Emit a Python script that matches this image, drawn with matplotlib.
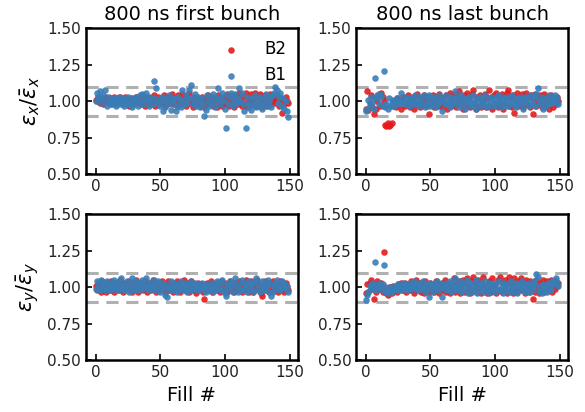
import numpy as np
import matplotlib
matplotlib.use('Agg')
import matplotlib.pyplot as plt

# fill index
fills = np.arange(150)

# horizontal emittance, first bunch
ex_first_b2 = [1.01, 1.00, 1.03, 0.99, 1.02, 1.00, 0.98, 1.01, 1.03, 1.00,
               0.99, 1.02, 0.98, 1.01, 1.03, 0.98, 1.00, 1.02, 0.99, 1.03,
               1.01, 0.98, 1.00, 1.03, 0.99, 1.01, 0.97, 1.02, 1.00, 0.98,
               1.01, 1.03, 0.99, 1.00, 1.02, 0.98, 1.04, 1.00, 0.97, 1.01,
               1.03, 0.99, 1.02, 0.98, 1.00, 1.04, 0.97, 1.01, 1.03, 0.98,
               1.00, 1.02, 0.99, 1.04, 0.97, 1.01, 1.03, 0.99, 1.00, 1.05,
               0.98, 1.02, 1.00, 0.97, 1.04, 1.01, 0.98, 1.05, 1.00, 1.02,
               0.97, 1.04, 1.06, 0.99, 1.01, 0.96, 1.03, 1.00, 0.98, 1.02,
               1.01, 0.97, 1.03, 1.00, 0.96, 1.02, 0.99, 1.04, 0.98, 1.01,
               1.03, 0.97, 1.00, 1.02, 0.96, 1.04, 0.99, 1.01, 0.97, 1.03,
               1.00, 0.98, 1.05, 0.97, 1.02, 0.99, 1.04, 0.96, 1.01, 1.03,
               0.98, 1.06, 1.00, 0.97, 1.03, 0.99, 1.06, 0.96, 1.02, 1.00,
               1.05, 0.98, 1.01, 1.06, 0.97, 1.03, 0.99, 1.05, 0.96, 1.02,
               1.00, 1.04, 0.97, 1.02, 0.99, 1.05, 0.98, 1.01, 1.03, 0.99,
               1.04, 1.00, 0.97, 1.02, 0.92, 1.01, 0.98, 1.03, 1.00, 0.99]
ex_first_b1 = [1.00, 1.06, 1.03, 1.07, 0.99, 1.02, 1.04, 1.08, 1.00, 0.97,
               1.03, 0.99, 1.01, 0.98, 1.02, 1.00, 0.97, 1.01, 1.03, 0.98,
               1.00, 1.02, 0.97, 1.01, 0.99, 1.03, 0.98, 1.00, 0.96, 1.02,
               0.99, 1.03, 1.01, 0.97, 1.04, 1.00, 1.05, 0.98, 1.02, 1.06,
               1.01, 0.97, 1.03, 1.00, 0.98, 1.14, 1.02, 1.09, 0.99, 1.01,
               0.97, 1.03, 0.93, 1.00, 0.96, 1.02, 0.98, 1.04, 0.94, 1.01,
               0.99, 1.02, 0.93, 0.97, 1.03, 1.00, 0.96, 1.08, 1.01, 0.98,
               1.04, 0.99, 1.08, 1.02, 1.11, 0.98, 1.01, 1.05, 0.97, 1.03,
               1.00, 0.96, 1.02, 0.98, 0.90, 0.94, 1.04, 1.00, 0.97, 1.02,
               0.99, 1.05, 0.96, 1.03, 1.01, 1.09, 0.98, 1.02, 1.06, 1.00,
               0.95, 0.82, 1.04, 0.98, 1.03, 1.06, 0.97, 1.01, 1.05, 0.99,
               1.02, 1.09, 1.00, 1.06, 0.98, 0.93, 0.82, 1.03, 0.99, 0.96,
               0.94, 1.02, 0.98, 1.04, 0.96, 1.01, 0.97, 1.03, 0.99, 0.95,
               1.02, 0.98, 1.05, 0.97, 1.00, 1.03, 0.96, 1.04, 1.06, 1.10,
               1.08, 0.99, 1.03, 1.06, 0.97, 1.02, 0.95, 1.00, 0.93, 0.89]

# horizontal emittance, last bunch
ex_last_b2 = [0.95, 1.07, 0.94, 0.99, 1.04, 0.96, 0.91, 1.02, 0.95, 1.00,
              1.05, 0.97, 1.06, 1.03, 1.00, 0.84, 0.83, 0.85, 0.83, 0.84,
              0.85, 0.97, 1.00, 0.96, 1.02, 0.98, 1.01, 0.95, 1.00, 1.03,
              0.97, 1.01, 0.99, 1.04, 0.96, 1.00, 1.02, 0.95, 1.03, 0.98,
              1.05, 0.99, 0.96, 1.02, 0.98, 1.04, 1.00, 0.97, 1.03, 0.91,
              1.01, 0.98, 1.04, 0.96, 1.00, 1.03, 0.97, 1.05, 0.99, 0.96,
              1.02, 0.98, 1.04, 0.95, 1.00, 1.06, 0.97, 1.03, 0.99, 1.05,
              0.96, 1.02, 1.07, 0.98, 1.01, 0.95, 1.04, 0.99, 1.06, 0.97,
              1.02, 0.96, 1.05, 1.08, 0.99, 0.95, 1.03, 0.97, 1.04, 0.96,
              1.01, 0.98, 1.05, 0.96, 1.02, 1.08, 0.97, 1.03, 0.95, 1.04,
              0.99, 1.06, 0.96, 1.02, 0.98, 1.05, 0.95, 1.03, 0.99, 1.06,
              1.08, 0.97, 1.02, 0.96, 1.04, 0.92, 1.00, 1.06, 0.97, 1.03,
              0.99, 1.05, 0.96, 1.02, 1.06, 0.98, 1.03, 0.96, 1.04, 0.91,
              1.00, 1.05, 0.97, 1.02, 0.98, 1.04, 0.96, 1.01, 1.05, 0.97,
              1.03, 0.99, 0.95, 1.04, 1.00, 0.96, 1.02, 0.98, 1.03, 1.00]
ex_last_b1 = [0.93, 0.95, 1.01, 0.97, 1.03, 0.99, 0.95, 1.16, 1.02, 1.04,
              0.98, 1.05, 1.03, 0.97, 1.21, 0.96, 0.98, 0.95, 1.02, 0.97,
              0.99, 1.01, 0.97, 1.00, 1.02, 0.98, 1.01, 1.06, 0.99, 1.01,
              1.03, 0.98, 1.00, 1.02, 0.97, 1.01, 1.03, 0.99, 1.04, 0.98,
              1.01, 0.97, 1.03, 1.00, 0.98, 1.04, 0.96, 1.02, 0.99, 1.04,
              0.97, 1.02, 0.99, 1.03, 0.96, 1.01, 0.98, 1.04, 1.00, 0.93,
              1.02, 0.98, 1.04, 0.99, 1.01, 0.96, 1.03, 0.98, 1.02, 1.07,
              0.99, 1.03, 0.96, 1.00, 1.04, 0.98, 1.02, 0.95, 1.01, 0.99,
              1.03, 0.97, 1.00, 1.04, 0.98, 0.95, 1.02, 0.99, 1.03, 0.97,
              1.01, 0.98, 1.04, 0.99, 0.96, 1.02, 1.00, 0.97, 1.03, 0.99,
              1.02, 0.97, 1.04, 0.99, 1.01, 0.96, 1.03, 0.98, 1.02, 1.00,
              0.97, 1.03, 0.99, 1.04, 0.98, 1.01, 0.96, 1.02, 0.99, 1.03,
              0.98, 1.01, 0.95, 1.03, 0.99, 1.02, 0.97, 1.04, 1.00, 0.98,
              1.03, 0.97, 1.05, 1.09, 1.01, 0.98, 1.03, 0.95, 1.00, 0.96,
              1.02, 0.98, 1.04, 0.99, 1.03, 1.01, 1.04, 0.99, 1.02, 0.98]

# vertical emittance, first bunch
ey_first_b2 = [1.01, 0.98, 1.03, 1.00, 0.97, 1.04, 0.99, 1.02, 0.97, 1.03,
               1.00, 0.98, 1.04, 1.01, 0.97, 1.03, 0.99, 1.02, 0.98, 1.05,
               1.00, 0.97, 1.03, 0.99, 1.02, 0.98, 1.04, 1.00, 0.97, 1.03,
               0.99, 1.05, 1.01, 0.97, 1.03, 0.99, 1.02, 0.98, 1.04, 1.00,
               0.97, 1.03, 1.01, 0.98, 1.05, 0.99, 1.02, 0.97, 1.03, 1.00,
               0.98, 1.04, 0.99, 1.02, 0.97, 1.01, 1.04, 0.98, 1.00, 1.03,
               0.97, 1.02, 0.99, 1.04, 1.00, 0.97, 1.03, 0.99, 1.05, 0.98,
               1.01, 1.03, 0.97, 1.00, 1.04, 0.98, 1.02, 0.99, 0.96, 1.03,
               1.00, 0.98, 1.02, 0.97, 0.92, 1.01, 1.03, 0.98, 1.00, 1.04,
               0.97, 1.02, 0.99, 1.03, 0.98, 1.01, 0.97, 1.04, 1.00, 0.98,
               1.03, 0.99, 0.97, 1.02, 1.04, 0.98, 1.01, 0.97, 1.03, 1.00,
               0.98, 1.04, 1.01, 0.97, 1.03, 0.99, 1.05, 0.98, 1.02, 0.97,
               1.04, 1.00, 0.97, 1.03, 0.99, 1.05, 0.98, 1.02, 0.96, 0.94,
               1.01, 1.04, 0.98, 1.03, 0.97, 1.02, 0.99, 1.04, 0.98, 1.01,
               1.03, 0.97, 1.00, 1.04, 0.98, 1.02, 0.97, 1.03, 1.00, 0.98]
ey_first_b1 = [0.99, 1.04, 1.01, 0.98, 1.05, 1.02, 0.99, 1.03, 0.98, 1.04,
               1.01, 0.98, 1.03, 1.00, 1.05, 0.99, 1.02, 0.98, 1.04, 1.01,
               1.06, 0.99, 1.02, 0.98, 1.04, 1.00, 0.97, 1.03, 1.06, 1.00,
               0.98, 1.04, 1.01, 0.98, 1.03, 1.00, 1.05, 0.99, 1.02, 1.06,
               1.00, 0.98, 1.03, 1.01, 0.99, 1.05, 1.02, 0.98, 1.04, 1.00,
               0.97, 1.03, 0.99, 1.02, 0.95, 0.93, 1.01, 0.98, 1.04, 1.00,
               0.98, 1.03, 1.00, 0.97, 1.02, 0.99, 1.04, 1.01, 0.98, 1.03,
               1.00, 0.97, 1.02, 0.99, 1.04, 0.98, 1.01, 1.03, 0.99, 1.02,
               0.98, 1.00, 1.03, 0.99, 1.01, 0.97, 1.02, 1.00, 0.98, 1.03,
               1.00, 0.97, 1.02, 0.99, 1.04, 1.01, 0.98, 1.03, 1.05, 0.99,
               0.96, 0.94, 1.02, 0.99, 1.04, 1.01, 0.97, 1.03, 1.06, 1.00,
               0.97, 1.02, 0.99, 1.05, 0.98, 1.03, 1.00, 0.97, 1.02, 1.04,
               0.99, 1.02, 0.97, 1.04, 1.06, 0.99, 1.02, 0.97, 1.01, 1.04,
               0.98, 1.03, 1.00, 1.05, 0.97, 1.02, 0.94, 0.97, 1.00, 1.03,
               1.05, 0.99, 1.02, 0.98, 1.04, 1.00, 1.03, 0.99, 1.01, 0.97]

# vertical emittance, last bunch
ey_last_b2 = [0.96, 1.02, 0.97, 1.03, 1.05, 0.99, 0.92, 1.01, 0.97, 1.04,
              1.02, 0.99, 1.03, 0.97, 1.24, 1.00, 0.96, 0.95, 0.98, 1.00,
              0.96, 1.01, 0.98, 1.00, 0.97, 1.02, 0.99, 1.03, 0.98, 1.01,
              1.03, 0.97, 1.00, 1.02, 0.98, 1.04, 0.99, 0.96, 1.02, 1.05,
              0.98, 1.00, 1.03, 0.97, 1.02, 0.96, 1.04, 0.99, 1.01, 0.97,
              1.03, 0.98, 1.01, 0.97, 1.04, 0.99, 1.02, 0.96, 1.00, 1.03,
              0.98, 1.05, 0.97, 1.02, 1.00, 0.96, 1.03, 0.99, 1.06, 0.97,
              1.02, 0.98, 1.04, 0.96, 1.01, 1.05, 0.97, 1.03, 1.06, 0.98,
              1.00, 0.96, 1.04, 1.07, 0.98, 1.02, 0.97, 1.05, 1.00, 0.96,
              1.03, 1.07, 0.98, 1.01, 0.96, 1.04, 1.00, 0.97, 1.06, 0.99,
              1.02, 0.96, 1.05, 0.98, 1.07, 0.97, 1.03, 0.99, 1.05, 0.96,
              1.02, 1.07, 0.98, 1.03, 0.96, 1.06, 1.00, 0.97, 1.04, 0.99,
              1.06, 0.98, 1.03, 0.96, 1.05, 1.01, 0.97, 1.04, 0.99, 0.92,
              1.02, 0.97, 1.05, 1.00, 0.96, 1.03, 0.98, 1.05, 0.97, 1.02,
              1.04, 0.98, 1.00, 1.05, 0.97, 1.02, 0.99, 1.04, 1.01, 1.03]
ey_last_b1 = [0.91, 0.95, 0.97, 1.01, 0.99, 1.03, 1.01, 1.17, 0.98, 1.02,
              1.00, 1.03, 0.99, 1.02, 1.15, 0.97, 0.99, 0.96, 1.00, 0.98,
              0.97, 1.00, 0.99, 1.01, 0.98, 1.02, 1.00, 0.98, 1.01, 1.03,
              0.99, 1.02, 1.00, 0.98, 1.03, 1.01, 0.99, 1.04, 1.02, 1.00,
              0.98, 1.03, 1.01, 0.99, 1.04, 1.00, 0.97, 1.02, 0.99, 0.93,
              1.03, 1.00, 0.97, 1.02, 0.99, 1.04, 1.01, 0.98, 1.02, 0.93,
              1.00, 1.03, 0.98, 1.01, 0.99, 1.04, 0.97, 1.02, 1.00, 1.06,
              0.98, 1.02, 0.99, 1.04, 0.97, 1.01, 1.03, 0.98, 1.05, 0.96,
              1.00, 1.03, 0.97, 1.02, 0.99, 1.05, 0.96, 1.01, 1.03, 0.98,
              1.02, 0.97, 1.04, 0.99, 1.01, 0.96, 1.03, 0.98, 1.02, 1.00,
              0.97, 1.03, 0.99, 1.04, 0.98, 1.01, 0.96, 1.03, 1.00, 0.98,
              1.02, 0.97, 1.04, 0.99, 1.01, 0.97, 1.03, 0.96, 1.00, 1.02,
              0.98, 1.04, 1.00, 0.97, 1.02, 0.99, 1.03, 0.97, 1.01, 0.99,
              1.04, 1.02, 1.09, 1.07, 0.97, 1.00, 0.96, 1.02, 0.98, 1.01,
              0.97, 1.03, 1.00, 0.98, 1.04, 1.02, 1.05, 1.06, 1.03, 1.01]

titles = ['800 ns first bunch', '800 ns last bunch']
ylabels = [r'$\epsilon_x/\bar{\epsilon}_x$', r'$\epsilon_y/\bar{\epsilon}_y$']
red = '#e41a1c'
blue = '#377eb8'

fig, axes = plt.subplots(2, 2, figsize=(5.85, 4.12), dpi=100)
plt.subplots_adjust(left=0.147, right=0.971, top=0.931, bottom=0.126,
                    wspace=0.275, hspace=0.276)

series = [[(ex_first_b2, ex_first_b1), (ex_last_b2, ex_last_b1)],
          [(ey_first_b2, ey_first_b1), (ey_last_b2, ey_last_b1)]]

for i in range(2):
    for j in range(2):
        ax = axes[i][j]
        b2, b1 = series[i][j]
        ax.scatter(fills, b2, s=22, color=red, alpha=0.9, linewidths=0, label='B2', zorder=3)
        ax.scatter(fills, b1, s=22, color=blue, alpha=0.9, linewidths=0, label='B1', zorder=3)
        ax.axhline(1.1, color='#b0b0b0', lw=2.2, ls=(0, (4, 2.5)), zorder=1)
        ax.axhline(0.9, color='#b0b0b0', lw=2.2, ls=(0, (4, 2.5)), zorder=1)
        ax.set_ylim(0.5, 1.5)
        ax.set_yticks([0.5, 0.75, 1.0, 1.25, 1.5])
        ax.set_yticklabels(['0.50', '0.75', '1.00', '1.25', '1.50'])
        ax.set_xticks([0, 50, 100, 150])
        ax.tick_params(direction='in', length=4, width=1.2, labelsize=11,
                       labelcolor='#222222', top=False, right=False)
        for sp in ax.spines.values():
            sp.set_linewidth(1.8)
        if i == 0:
            ax.set_title(titles[j], fontsize=14)
        else:
            ax.set_xlabel('Fill #', fontsize=14)
        if j == 0:
            ax.set_ylabel(ylabels[i], fontsize=15)

axes[0][0].legend(loc='upper right', frameon=False, fontsize=12,
                  handletextpad=1.0, borderaxespad=0.3)

plt.savefig('out.png', dpi=100)
